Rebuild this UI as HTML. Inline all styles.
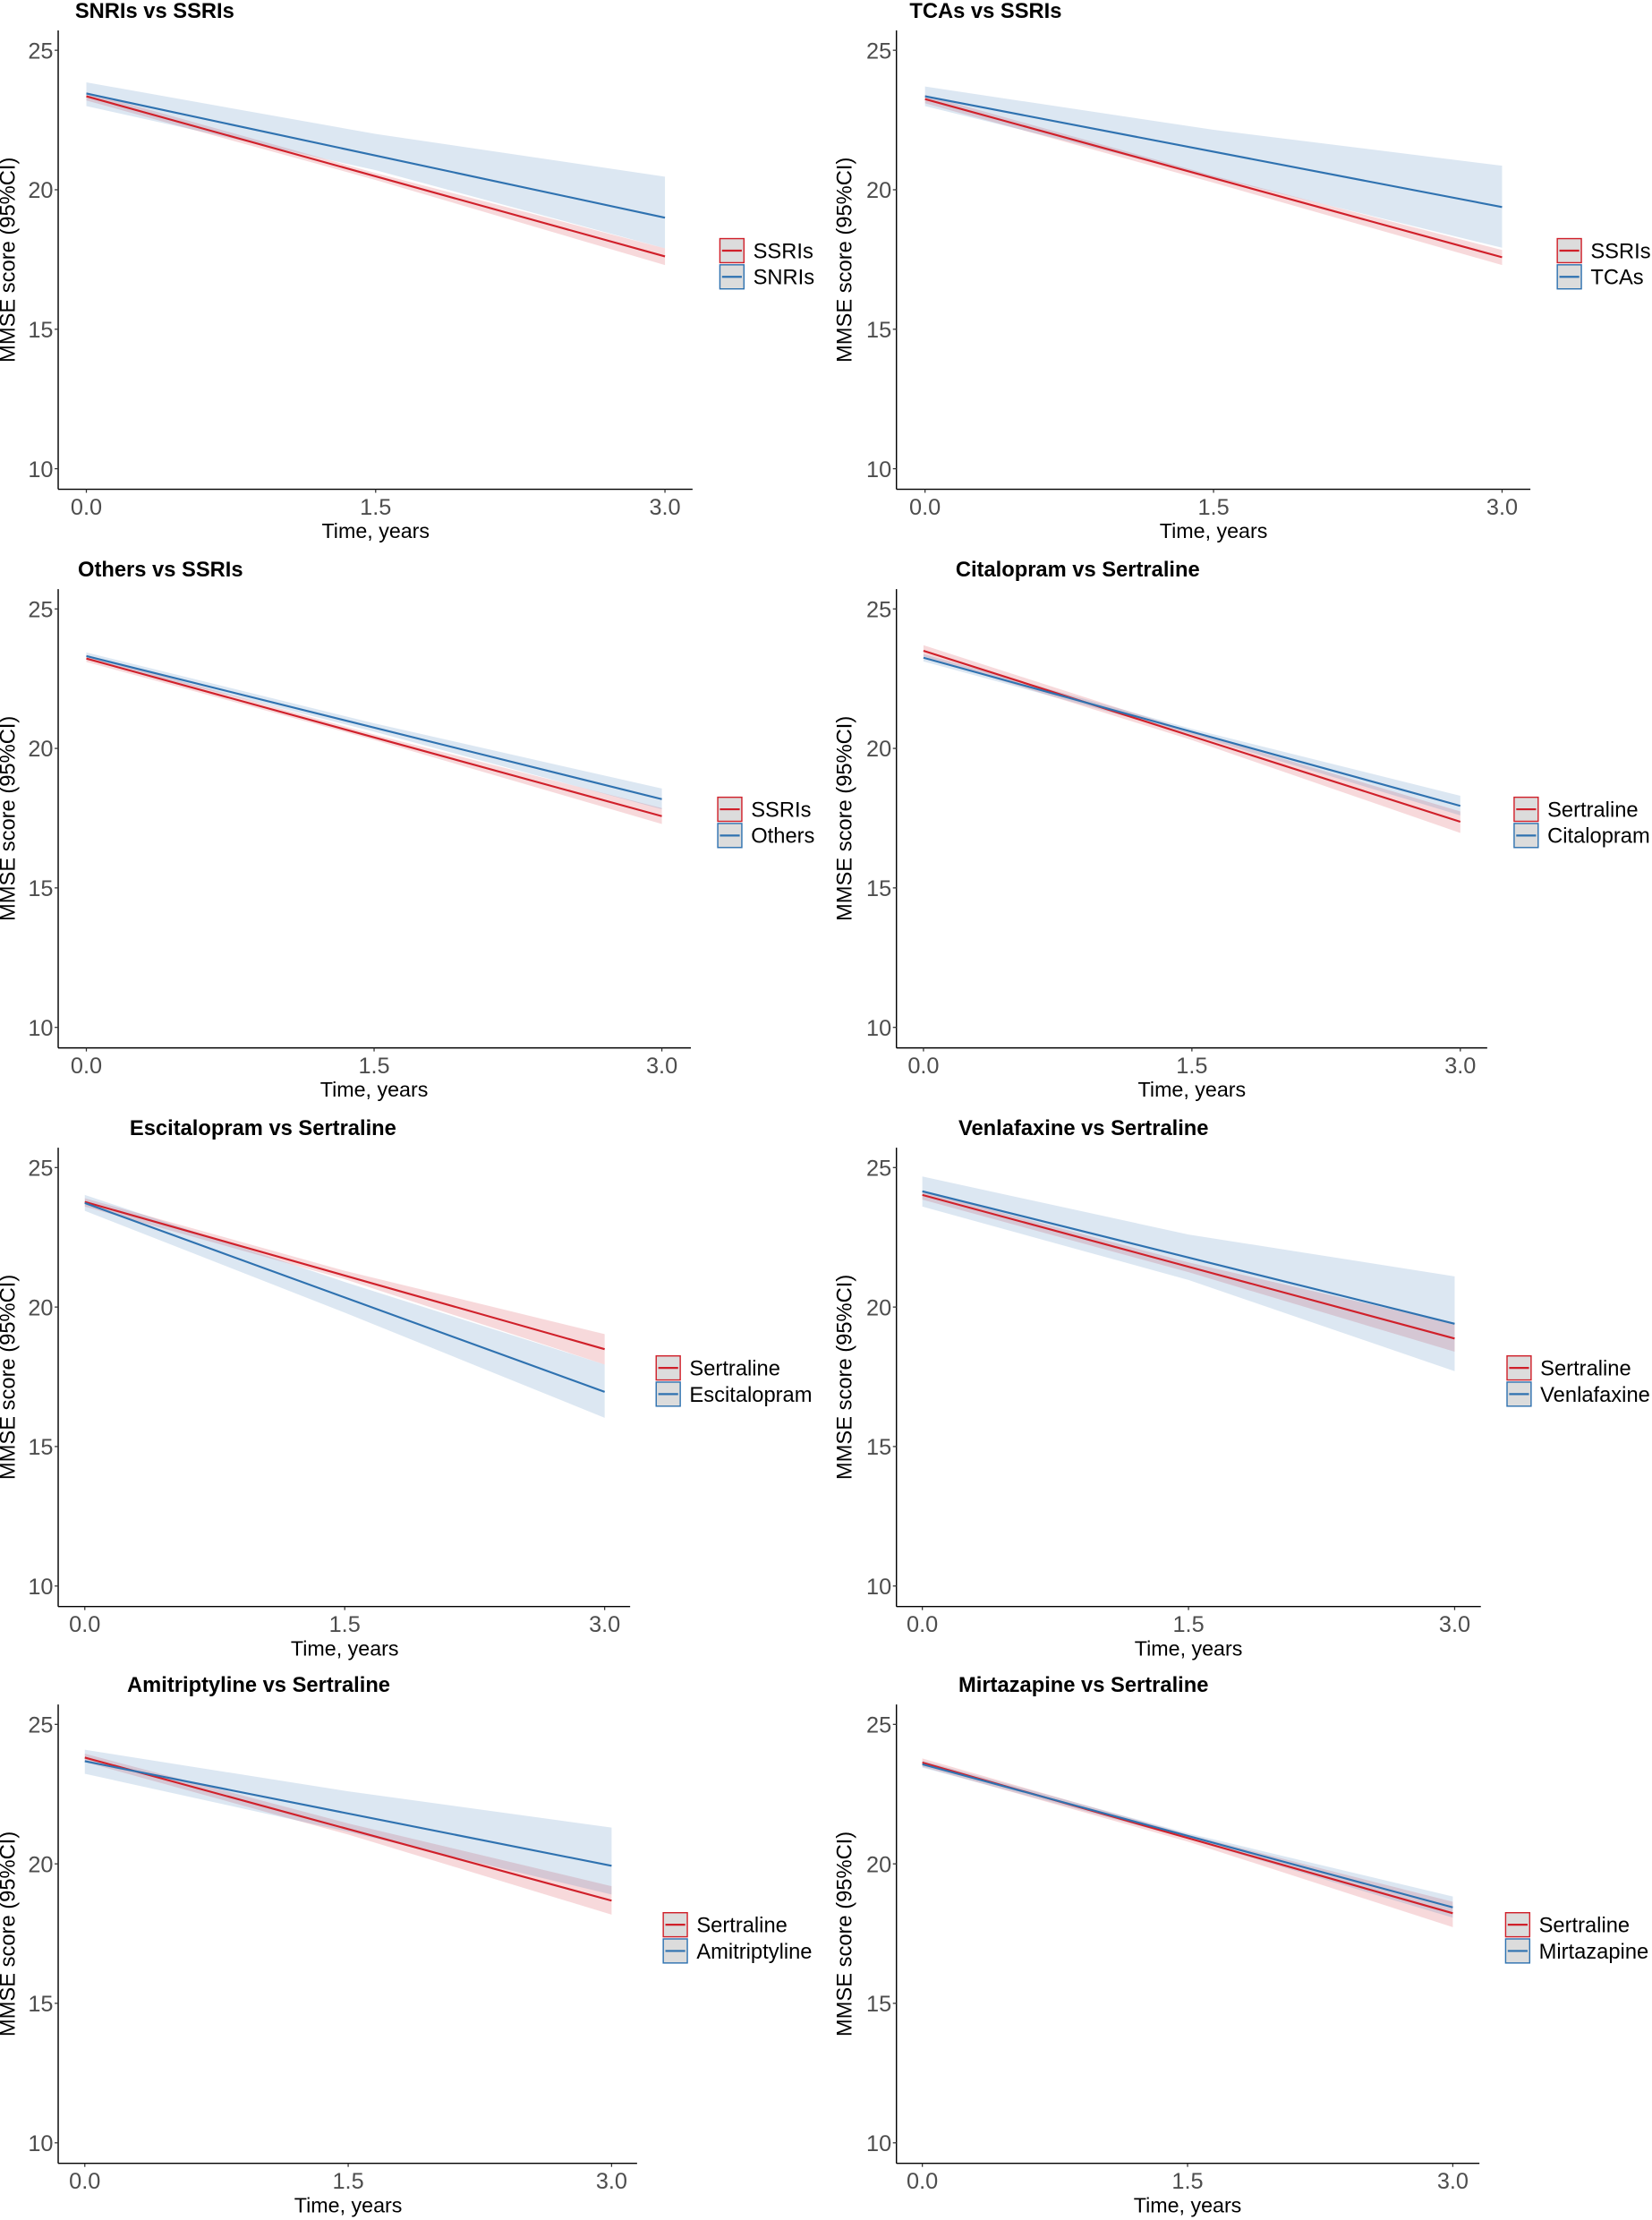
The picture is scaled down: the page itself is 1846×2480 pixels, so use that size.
<!DOCTYPE html>
<html><head><meta charset="utf-8"><title>MMSE trajectories</title>
<style>
html,body{margin:0;padding:0;background:#fff;}
svg{display:block;}
text{font-family:"Liberation Sans",Arial,sans-serif;}
</style></head>
<body>
<svg id="fig" xmlns="http://www.w3.org/2000/svg" width="1846" height="2480" viewBox="0 0 1166.9 1567.7" preserveAspectRatio="none"></svg>
<script>
// ---- data ----
const panelTitles = ["SNRIs vs SSRIs","TCAs vs SSRIs","Others vs SSRIs","Citalopram vs Sertraline","Escitalopram vs Sertraline","Venlafaxine vs Sertraline","Amitriptyline vs Sertraline","Mirtazapine vs Sertraline"];
const refNames = ["SSRIs","SSRIs","SSRIs","Sertraline","Sertraline","Sertraline","Sertraline","Sertraline"];
const cmpNames = ["SNRIs","TCAs","Others","Citalopram","Escitalopram","Venlafaxine","Amitriptyline","Mirtazapine"];
const bandTimes = [0, 1.5, 3];
const refStart = [23.35, 23.25, 23.22, 23.5, 23.77, 24.02, 23.81, 23.63];
const refEnd   = [17.61, 17.58, 17.57, 17.37, 18.49, 18.87, 18.68, 18.23];
const cmpStart = [23.45, 23.35, 23.31, 23.25, 23.73, 24.15, 23.68, 23.57];
const cmpEnd   = [19.0, 19.38, 18.18, 17.94, 16.96, 19.4, 19.93, 18.44];
const refLo = [[23.2,20.35,17.3],[23.1,20.25,17.3],[23.1,20.3,17.29],[23.3,20.3,16.97],[23.6,21.0,17.94],[23.85,21.25,18.4],[23.65,21.05,18.18],[23.48,20.8,17.73]];
const refHi = [[23.5,20.6,17.9],[23.4,20.5,17.84],[23.35,20.5,17.86],[23.7,20.6,17.74],[23.9,21.3,19.03],[24.15,21.6,19.4],[23.95,21.45,19.2],[23.78,21.05,18.64]];
const cmpLo = [[23.0,20.7,17.9],[23.0,20.45,17.92],[23.19,20.6,17.82],[23.12,20.5,17.6],[23.45,19.8,16.03],[23.6,20.97,17.7],[23.23,21.15,18.9],[23.45,20.9,18.07]];
const cmpHi = [[23.85,22.0,20.47],[23.7,22.15,20.86],[23.44,20.9,18.56],[23.38,20.7,18.3],[24.02,20.9,17.94],[24.68,22.6,21.1],[24.09,22.6,21.3],[23.7,21.1,18.83]];
const timeTicks = [0, 1.5, 3];
const timeTickLabels = ["0.0","1.5","3.0"];
const scoreTicks = [10, 15, 20, 25];
const scoreTickLabels = ["10","15","20","25"];

// ---- layout (not data) ----
const rowTop25 = [35.5, 430, 824.5, 1217.7];
const unitPx = 19.7;
const layout = [
 {ax:41.1, x0:61.0, x3:469.7, xe:489.2, lg:508, tx:53},
 {ax:633.2,x0:653.4,x3:1061,xe:1081, lg:1099.5,tx:642.5},
 {ax:41.1, x0:61.0, x3:467.5, xe:488, lg:506.5,tx:55},
 {ax:633.2,x0:652.3,x3:1031.5,xe:1050.5, lg:1069, tx:675},
 {ax:41.1, x0:59.9, x3:427.1, xe:445.1, lg:463, tx:91.6},
 {ax:633.2,x0:651.5,x3:1027.5,xe:1046,lg:1064, tx:677},
 {ax:41.1, x0:59.9, x3:432, xe:450, lg:468,tx:89.8},
 {ax:633.2,x0:651.5,x3:1026.2,xe:1045,lg:1063,tx:677}
];
const RED = "#d0202a", BLUE = "#2f72b0";
const NS = "http://www.w3.org/2000/svg";
const svg = document.getElementById("fig");
function mk(tag, attrs, parent){
  const e = document.createElementNS(NS, tag);
  for (const k in attrs) e.setAttribute(k, attrs[k]);
  (parent||svg).appendChild(e);
  return e;
}
function slug(s){return s.toLowerCase().replace(/[^a-z0-9]+/g,'-').replace(/^-|-$/g,'');}

for (let p = 0; p < 8; p++) {
  const L = layout[p];
  const t25 = rowTop25[Math.floor(p/2)];
  const xs = t => L.x0 + (L.x3 - L.x0) * t / 3;
  const ys = v => t25 + (25 - v) * unitPx;
  const g = mk("g", {});
  
  

  const title = mk("text", {x:L.tx, y:t25-23, "font-size":15, "font-weight":"bold", fill:"#000"}, g);
  title.textContent = panelTitles[p];
  
  

  function band(lo, hi, color, name){
    let pts = [];
    for (let i = 0; i < bandTimes.length; i++) pts.push(xs(bandTimes[i]).toFixed(2)+","+ys(hi[i]).toFixed(2));
    for (let i = bandTimes.length-1; i >= 0; i--) pts.push(xs(bandTimes[i]).toFixed(2)+","+ys(lo[i]).toFixed(2));
    const b = mk("polygon", {points:pts.join(" "), fill:color, "fill-opacity":0.17, stroke:"none"}, g);
    
    
  }
  band(refLo[p], refHi[p], RED, 'ci-band-' + slug(refNames[p]));
  band(cmpLo[p], cmpHi[p], BLUE, 'ci-band-' + slug(cmpNames[p]));

  const l1 = mk("line", {x1:xs(0), y1:ys(refStart[p]), x2:xs(3), y2:ys(refEnd[p]), stroke:RED, "stroke-width":1.35}, g);
  
  
  const l2 = mk("line", {x1:xs(0), y1:ys(cmpStart[p]), x2:xs(3), y2:ys(cmpEnd[p]), stroke:BLUE, "stroke-width":1.35}, g);
  
  

  const yAxis = mk("line", {x1:L.ax, y1:t25-14, x2:L.ax, y2:t25+310, stroke:"#000", "stroke-width":0.9}, g);
  
  
  const xAxis = mk("line", {x1:L.ax, y1:t25+310, x2:L.xe, y2:t25+310, stroke:"#000", "stroke-width":0.9}, g);
  
  

  for (let i = 0; i < scoreTicks.length; i++) {
    const y = ys(scoreTicks[i]);
    const tk = mk("line", {x1:L.ax-2.5, y1:y, x2:L.ax, y2:y, stroke:"#333", "stroke-width":0.8}, g);
    
    
    const tl = mk("text", {x:L.ax-3.5, y:y+5.8, "font-size":16, "text-anchor":"end", fill:"#4d4d4d"}, g);
    tl.textContent = scoreTickLabels[i];
    
    
  }
  for (let i = 0; i < timeTicks.length; i++) {
    const x = xs(timeTicks[i]);
    const tk = mk("line", {x1:x, y1:t25+310, x2:x, y2:t25+312.5, stroke:"#333", "stroke-width":0.8}, g);
    
    
    const tl = mk("text", {x:x, y:t25+328, "font-size":16, "text-anchor":"middle", fill:"#4d4d4d"}, g);
    tl.textContent = timeTickLabels[i];
    
    
  }
  const xt = mk("text", {x:xs(1.5), y:t25+344.5, "font-size":14.7, "text-anchor":"middle", fill:"#000"}, g);
  xt.textContent = "Time, years";
  
  
  const yc = t25 + 148;
  const yx = (p % 2 === 0) ? 10.5 : 601.5;
  const yt = mk("text", {x:yx, y:yc, "font-size":15, "text-anchor":"middle", fill:"#000", transform:"rotate(-90 "+yx+" "+yc+")"}, g);
  yt.textContent = "MMSE score (95%CI)";
  
  

  const names = [refNames[p], cmpNames[p]];
  const cols = [RED, BLUE];
  for (let k = 0; k < 2; k++) {
    const ky = t25 + 132.5 + k*18.5;
    const lg = mk("g", {}, g);
    
    
    mk("rect", {x:L.lg+0.5, y:ky+0.5, width:17, height:17, fill:"#dcdcdc", stroke:cols[k], "stroke-width":0.9}, lg);
    mk("line", {x1:L.lg+2, y1:ky+9, x2:L.lg+16, y2:ky+9, stroke:cols[k], "stroke-width":1.4}, lg);
    const lt = mk("text", {x:L.lg+24, y:ky+14.3, "font-size":15, fill:"#000"}, lg);
    lt.textContent = names[k];
  }
}
</script>
</body></html>
